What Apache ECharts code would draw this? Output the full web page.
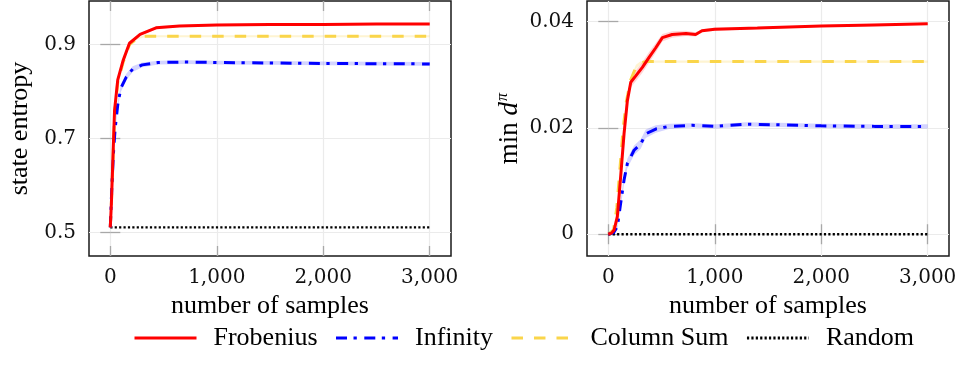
<!DOCTYPE html>
<html lang="en">
<head>
<meta charset="UTF-8">
<title>state entropy / min d</title>
<script src="https://cdn.jsdelivr.net/npm/echarts@6/dist/echarts.min.js"></script>
<style>
  html, body { margin: 0; padding: 0; background: #fff; }
</style>
</head>
<body>
<div id="main" style="width: 970px;height: 367px;"></div>
<script>
// ---- left panel: state entropy ----
var entFrobX = [0, 10, 25, 40, 70, 120, 180, 280, 430, 650, 1000, 1500, 2000, 2500, 3000];
var entFrobY = [0.511, 0.56, 0.66, 0.76, 0.825, 0.866, 0.903, 0.922, 0.936, 0.94, 0.942, 0.943, 0.943, 0.944, 0.944];
var entFrobBand = [0, 0.004, 0.006, 0.006, 0.005, 0.004, 0.004, 0.003, 0.003, 0.002, 0.002, 0.002, 0.002, 0.002, 0.002];

var entInfX = [0, 15, 30, 45, 70, 100, 150, 210, 300, 450, 700, 1000, 1500, 2000, 2500, 3000];
var entInfY = [0.511, 0.6, 0.67, 0.72, 0.772, 0.808, 0.831, 0.848, 0.857, 0.862, 0.863, 0.862, 0.861, 0.86, 0.8595, 0.859];
var entInfBand = [0, 0.006, 0.008, 0.008, 0.008, 0.008, 0.007, 0.006, 0.005, 0.004, 0.004, 0.004, 0.004, 0.004, 0.004, 0.004];

var entColX = [0, 10, 25, 40, 70, 120, 180, 250, 320, 3000];
var entColY = [0.511, 0.56, 0.65, 0.75, 0.82, 0.862, 0.9, 0.913, 0.918, 0.918];
var entColBand = [0, 0.003, 0.004, 0.004, 0.004, 0.003, 0.003, 0.002, 0.002, 0.002];

var entRandX = [0, 3000];
var entRandY = [0.511, 0.511];

// ---- right panel: min d^pi ----
var minFrobX = [0, 30, 55, 85, 116, 148, 179, 211, 258, 320, 383, 446, 508, 600, 730, 820, 880, 1000, 1400, 2000, 2500, 3000];
var minFrobY = [0, 0.0002, 0.0008, 0.0033, 0.0108, 0.0189, 0.0251, 0.0286, 0.0298, 0.0314, 0.0333, 0.0351, 0.037, 0.0376, 0.0378, 0.0376, 0.0383, 0.0386, 0.0388, 0.0392, 0.0394, 0.0396];
var minFrobBand = [0, 0.0001, 0.0003, 0.0005, 0.0007, 0.0008, 0.0009, 0.001, 0.001, 0.001, 0.001, 0.0009, 0.0007, 0.0006, 0.0005, 0.0004, 0.0003, 0.0003, 0.0002, 0.0002, 0.0002, 0.0002];

var minInfX = [0, 50, 85, 116, 148, 179, 242, 305, 352, 446, 571, 790, 1010, 1290, 1600, 2000, 2500, 3000];
var minInfY = [0, 0.0003, 0.0014, 0.0058, 0.0102, 0.0133, 0.0158, 0.017, 0.0189, 0.0198, 0.0203, 0.0205, 0.0203, 0.0207, 0.0206, 0.0204, 0.0203, 0.0203];
var minInfBand = [0, 0.0002, 0.0004, 0.0007, 0.0008, 0.0009, 0.0009, 0.0009, 0.0008, 0.0007, 0.0005, 0.0004, 0.0004, 0.0004, 0.0004, 0.0004, 0.0004, 0.0004];

var minColX = [0, 50, 80, 110, 140, 170, 210, 260, 300, 350, 3000];
var minColY = [0, 0.0008, 0.005, 0.0125, 0.02, 0.025, 0.029, 0.0315, 0.0322, 0.0325, 0.0325];
var minColBand = [0, 0.0001, 0.0003, 0.0005, 0.0006, 0.0006, 0.0005, 0.0004, 0.0003, 0.0002, 0.0002];

var minRandX = [0, 3000];
var minRandY = [0, 0];

// ticks
var xTicks = [0, 1000, 2000, 3000];
var entTicks = [0.5, 0.7, 0.9];
var minTicks = [0, 0.02, 0.04];

var names = ['Frobenius', 'Infinity', 'Column Sum', 'Random'];

var chartDom = document.getElementById('main');
var myChart = echarts.init(chartDom);

var SERIF = '"Liberation Serif", "Times New Roman", serif';
var NUMF = '"DejaVu Serif", serif';

function pairs(xs, ys) {
	return xs.map(function (x, i) { return [x, ys[i]]; });
}

function thousands(v) {
	return String(v).replace(/\B(?=(\d{3})+(?!\d))/g, ',');
}

// shaded spread (mean +- h) drawn as one polygon through the axes
function band(g, xs, ys, hs, color) {
	var rows = xs.map(function (x, i) { return [x, ys[i] - hs[i], ys[i] + hs[i]]; });
	return {
		type: 'custom', xAxisIndex: g * 2, yAxisIndex: g * 2, silent: true, z: 1,
		data: rows,
		encode: { x: 0, y: [1, 2] },
		renderItem: function (params, api) {
			if (params.dataIndex !== 0) return null;
			var pts = [];
			rows.forEach(function (r) { pts.push(api.coord([r[0], r[2]])); });
			for (var i = rows.length - 1; i >= 0; i--) pts.push(api.coord([rows[i][0], rows[i][1]]));
			return {
				type: 'polygon',
				shape: { points: pts },
				style: { fill: color, stroke: null }
			};
		}
	};
}

var styles = {
	'Frobenius': { color: '#ff0000', width: 3, type: 'solid' },
	'Infinity': { color: '#0000ff', width: 3, type: [11, 6.5, 3.3, 7.5] },
	'Column Sum': { color: '#fad54a', width: 3, type: [11.5, 11] },
	'Random': { color: '#000000', width: 2.4, type: [2.2, 2.2] }
};

function mainLine(name, g, xs, ys, z) {
	var s = styles[name];
	return {
		type: 'line', name: name, xAxisIndex: g * 2, yAxisIndex: g * 2,
		data: pairs(xs, ys), symbol: 'none', z: z,
		color: s.color,
		lineStyle: { color: s.color, width: s.width, type: s.type, cap: 'butt' }
	};
}

var seriesList = [
	band(0, entColX, entColY, entColBand, 'rgba(250,213,74,0.25)'),
	band(0, entInfX, entInfY, entInfBand, 'rgba(0,0,255,0.17)'),
	band(0, entFrobX, entFrobY, entFrobBand, 'rgba(255,0,0,0.17)'),
	band(1, minColX, minColY, minColBand, 'rgba(250,213,74,0.25)'),
	band(1, minInfX, minInfY, minInfBand, 'rgba(0,0,255,0.17)'),
	band(1, minFrobX, minFrobY, minFrobBand, 'rgba(255,0,0,0.17)'),
	mainLine('Random', 0, entRandX, entRandY, 3),
	mainLine('Column Sum', 0, entColX, entColY, 4),
	mainLine('Infinity', 0, entInfX, entInfY, 5),
	mainLine('Frobenius', 0, entFrobX, entFrobY, 6),
	mainLine('Random', 1, minRandX, minRandY, 3),
	mainLine('Column Sum', 1, minColX, minColY, 4),
	mainLine('Infinity', 1, minInfX, minInfY, 5),
	mainLine('Frobenius', 1, minFrobX, minFrobY, 6)
];

var tickStyle = { show: true, inside: true, length: 10, lineStyle: { color: '#a8a8a8', width: 1.3 } };
var gridLine = { show: true, lineStyle: { color: '#ebebeb', width: 1.2 } };

function xAxisPair(g) {
	return [
		{
			type: 'value', gridIndex: g, position: 'bottom', min: -200, max: 3200,
			name: 'number of samples', nameLocation: 'middle', nameGap: 33,
			nameTextStyle: { fontFamily: SERIF, fontSize: 26, color: '#000' },
			axisLine: { show: false },
			axisTick: Object.assign({ customValues: xTicks }, tickStyle),
			splitLine: Object.assign({ customValues: xTicks }, gridLine),
			axisLabel: {
				customValues: xTicks, margin: 12, fontFamily: NUMF, fontSize: 20, color: '#111',
				formatter: thousands
			}
		},
		{
			type: 'value', gridIndex: g, position: 'top', min: -200, max: 3200,
			axisLine: { show: false }, splitLine: { show: false }, axisLabel: { show: false },
			axisTick: Object.assign({ customValues: xTicks }, tickStyle)
		}
	];
}

function yAxisPair(g, min, max, ticks, name, gap) {
	return [
		{
			type: 'value', gridIndex: g, position: 'left', min: min, max: max,
			name: name, nameLocation: 'middle', nameGap: gap, nameRotate: 90,
			nameTextStyle: {
				fontFamily: SERIF, fontSize: 26, color: '#000',
				rich: {
					r: { fontFamily: SERIF, fontSize: 27, color: '#000' },
					i: { fontFamily: SERIF, fontSize: 27, fontStyle: 'italic', color: '#000' },
					s: { fontFamily: SERIF, fontSize: 16, fontStyle: 'italic', color: '#000', verticalAlign: 'top', padding: [0, 0, 14, 1] }
				}
			},
			axisLine: { show: false },
			axisTick: Object.assign({ customValues: ticks }, tickStyle),
			splitLine: Object.assign({ customValues: ticks }, gridLine),
			axisLabel: { customValues: ticks, margin: 13, fontFamily: NUMF, fontSize: 20, color: '#111' }
		},
		{
			type: 'value', gridIndex: g, position: 'right', min: min, max: max,
			axisLine: { show: false }, splitLine: { show: false }, axisLabel: { show: false },
			axisTick: Object.assign({ customValues: ticks }, tickStyle)
		}
	];
}

var option = {
	animation: false,
	grid: [
		{ left: 89, top: 1, width: 362, height: 255, show: true, borderColor: '#1a1a1a', borderWidth: 1.5, backgroundColor: 'transparent' },
		{ left: 587, top: 1, width: 362, height: 255, show: true, borderColor: '#1a1a1a', borderWidth: 1.5, backgroundColor: 'transparent' }
	],
	xAxis: [].concat(xAxisPair(0), xAxisPair(1)),
	yAxis: [].concat(
		yAxisPair(0, 0.45, 0.993, entTicks, 'state entropy', 56),
		yAxisPair(1, -0.0041, 0.0439, minTicks, '{r|min }{i|d}{s|π}', 62)
	),
	legend: {
		data: names,
		left: 133,
		top: 325,
		padding: 0,
		itemWidth: 62,
		itemHeight: 14,
		itemGap: 17,
		lineStyle: { width: 3 },
		itemStyle: { opacity: 0 },
		textStyle: { fontFamily: SERIF, fontSize: 26, color: '#000', padding: [0, 0, 0, 12] }
	},
	series: seriesList
};

myChart.setOption(option);
</script>
</body>
</html>
